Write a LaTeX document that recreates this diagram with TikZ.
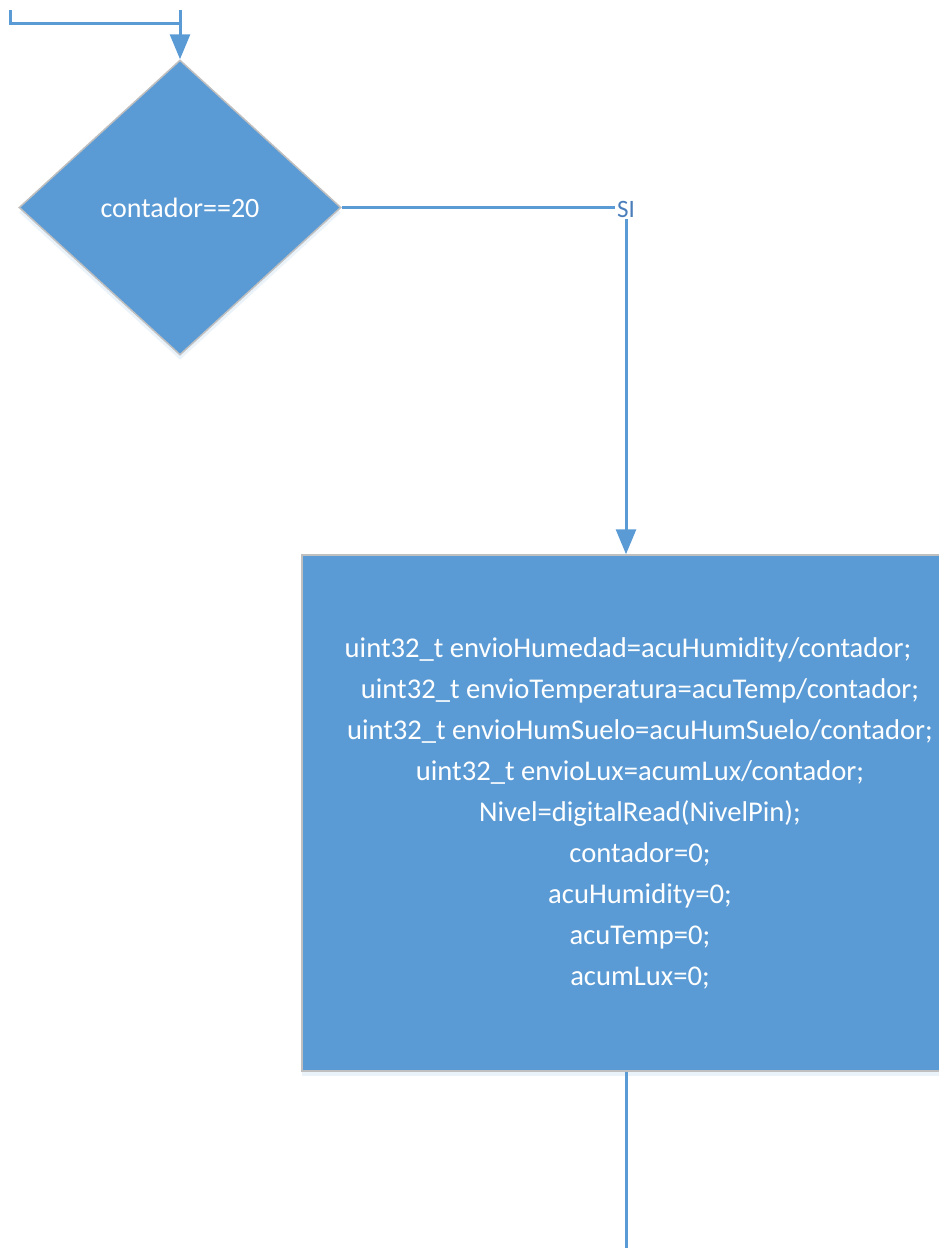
\documentclass[tikz,border=0pt]{standalone}
\usepackage{fontspec}
\setmainfont{Carlito}
\usetikzlibrary{shapes.geometric,arrows.meta,shadows}
\definecolor{flowblue}{HTML}{5B9BD5}
\definecolor{edgegray}{HTML}{BFBFBF}
\definecolor{labelblue}{HTML}{4A7EBB}
\begin{document}
\begin{tikzpicture}[x=1pt,y=-1pt,
  flowline/.style={draw=flowblue, line width=3pt},
  tip/.style={-{Triangle[length=25pt,width=20pt]}},
  softshadow/.style={drop shadow={shadow xshift=0pt, shadow yshift=-5pt, opacity=0.12, fill=flowblue}},
  decision/.style={shape=diamond, fill=flowblue, draw=edgegray, line width=1.5pt,
    minimum width=322pt, minimum height=295pt, inner sep=0pt, text=white,
    font=\fontsize{28}{34}\selectfont, softshadow},
  process/.style={rectangle, fill=flowblue, draw=edgegray, line width=1.5pt,
    minimum width=676pt, minimum height=516pt, text=white, align=center,
    font=\fontsize{28.6}{41}\selectfont, softshadow},
  branchlabel/.style={text=labelblue, font=\fontsize{25}{28}\selectfont, inner sep=2pt},
]
\useasboundingbox (0,0) rectangle (939,1248);
\clip (0,0) rectangle (939,1248);

% decision and process blocks
\node[decision] (cond) at (180,207.5) {contador==20};
\node[process] (calc) at (640,813) {%
  uint32\_t envioHumedad=acuHumidity/contador;\hspace*{24pt}\\
  uint32\_t envioTemperatura=acuTemp/contador;\\
  uint32\_t envioHumSuelo=acuHumSuelo/contador;\\
  uint32\_t envioLux=acumLux/contador;\\
  Nivel=digitalRead(NivelPin);\\
  contador=0;\\
  acuHumidity=0;\\
  acuTemp=0;\\
  acumLux=0;};

% free ends of the incoming and outgoing lines
\coordinate (inL) at (10,10);
\coordinate (inR) at (180,10);
\coordinate (join) at (180,23);
\coordinate (exit) at (626,1260);

% branch label on the corner of the yes path
\node[branchlabel] (si) at (626,209) {SI};

% connectors
\draw[flowline] (inL) |- (join);
\draw[flowline,tip] (inR) -- (cond.north);
\draw[flowline] (cond.east) -- (cond.east -| si.west);
\draw[flowline,tip] (si.south) -- (si.south |- calc.north);
\draw[flowline] (calc.south -| exit) -- (exit);
\end{tikzpicture}
\end{document}
